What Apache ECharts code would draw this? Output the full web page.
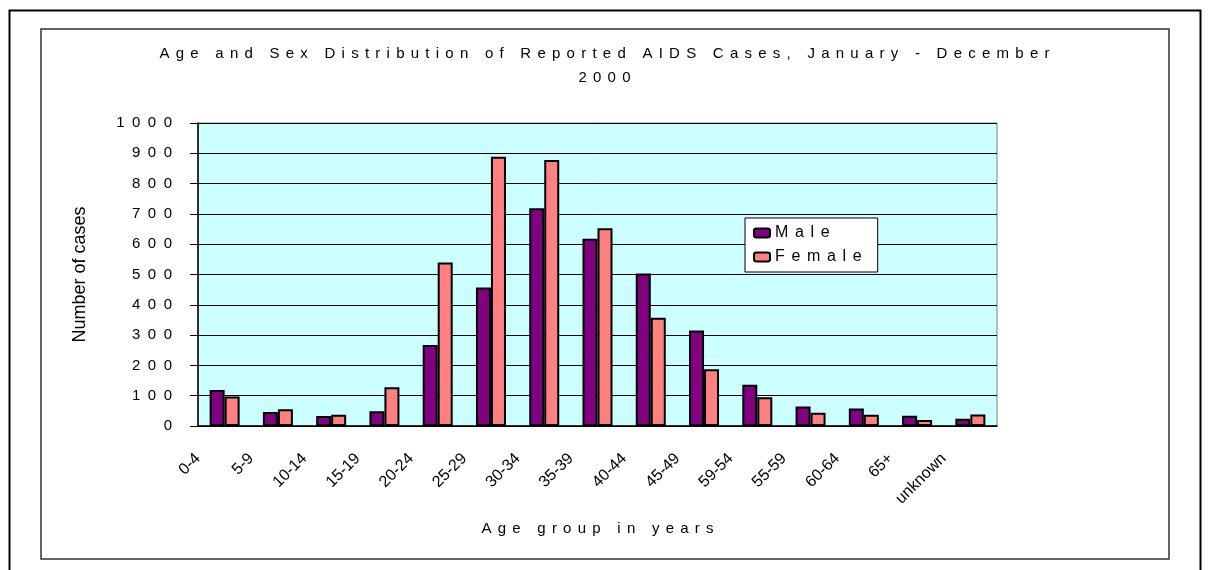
<!DOCTYPE html>
<html>
<head>
<meta charset="utf-8">
<title>Age and Sex Distribution of Reported AIDS Cases</title>
<script src="https://cdn.jsdelivr.net/npm/echarts@6/dist/echarts.min.js"></script>
<style>
html, body { margin: 0; padding: 0; background: #fff; }
#board { width: 1209px; height: 570px; }
</style>
</head>
<body>
<div id="board"></div>
<script>
// labels as printed under the axis ("59-54" is how the original reads)
var ageGroups = ["0-4", "5-9", "10-14", "15-19", "20-24", "25-29", "30-34", "35-39",
  "40-44", "45-49", "59-54", "55-59", "60-64", "65+", "unknown"];
var male = [119, 46, 33, 49, 267, 457, 719, 618, 503, 315, 136, 64, 58, 34, 24];
var female = [97, 55, 37, 128, 540, 889, 878, 653, 357, 187, 95, 44, 37, 20, 38];

var FONT = "Liberation Sans";
var GAP = "\u2005\u2006";   // ~0.42em between letters
var WIDE = "\u2002";        // en space, used for the tick numbers

// the original uses wide letter spacing on most texts
function spread(s, gap) {
  return String(s).split("").join(gap || GAP);
}

var myChart = echarts.init(document.getElementById("board"));

var options = {
  animation: false,
  backgroundColor: "#fff",
  title: {
    text: spread("Age and Sex Distribution of Reported AIDS Cases, January - December") + "\n" + spread("2000"),
    left: "center",
    top: 37,
    textStyle: { fontFamily: FONT, fontSize: 15, fontWeight: "normal", color: "#000", lineHeight: 24 }
  },
  legend: {
    data: ["Male", "Female"],
    orient: "vertical",
    left: 745,
    top: 218,
    padding: [7, 16, 7, 8],
    itemGap: 8,
    itemWidth: 16,
    itemHeight: 9,
    backgroundColor: "#fff",
    borderColor: "#000",
    borderWidth: 1,
    formatter: function (name) { return spread(name); },
    textStyle: { fontFamily: FONT, fontSize: 16, color: "#000" }
  },
  grid: {
    left: 198,
    right: 212,
    top: 123,
    bottom: 144,
    show: true,
    backgroundColor: "#CCFFFF",
    borderColor: "#808080",
    borderWidth: 1,
    containLabel: false,
    outerBoundsMode: "none"
  },
  xAxis: [
    {
      type: "category",
      data: ageGroups,
      boundaryGap: true,
      axisLine: { lineStyle: { color: "#000", width: 1.5 } },
      axisTick: { length: 6, lineStyle: { color: "#000" } },
      axisLabel: { show: false },
      name: spread("Age group in years"),
      nameLocation: "middle",
      nameGap: 95,
      nameTextStyle: { fontFamily: FONT, fontSize: 15, color: "#000" }
    },
    {
      // second axis only to put the labels on the tick marks, like the original
      type: "category",
      data: ageGroups.concat([""]),
      boundaryGap: false,
      position: "bottom",
      offset: 0,
      axisLine: { show: false },
      axisTick: { show: false },
      splitLine: { show: false },
      axisLabel: {
        interval: 0,
        rotate: 45,
        margin: 30,
        fontFamily: FONT,
        fontSize: 16,
        color: "#000"
      }
    }
  ],
  yAxis: {
    type: "value",
    min: 0,
    max: 1000,
    interval: 100,
    axisLine: { show: true, lineStyle: { color: "#000", width: 1.5 } },
    axisTick: { show: true, length: 8, lineStyle: { color: "#000" } },
    splitLine: { lineStyle: { color: "#000", width: 1 } },
    axisLabel: {
      margin: 26,
      fontFamily: FONT,
      fontSize: 15,
      color: "#000",
      formatter: function (v) { return spread(v, WIDE); }
    },
    name: "Number of cases",
    nameLocation: "middle",
    nameGap: 109,
    nameTextStyle: { fontFamily: FONT, fontSize: 18, color: "#000" }
  },
  series: [
    {
      name: "Male",
      type: "bar",
      xAxisIndex: 0,
      data: male,
      barWidth: 15,
      barGap: "0%",
      itemStyle: { color: "#800080", borderColor: "#000", borderWidth: 2 },
      emphasis: { disabled: true }
    },
    {
      name: "Female",
      type: "bar",
      xAxisIndex: 0,
      data: female,
      barWidth: 15,
      barGap: "0%",
      itemStyle: { color: "#FF8080", borderColor: "#000", borderWidth: 2 },
      emphasis: { disabled: true }
    }
  ],
  graphic: [
    {
      type: "rect",
      shape: { x: 9.5, y: 10.5, width: 1191, height: 580 },
      style: { fill: null, stroke: "#000", lineWidth: 2 },
      silent: true
    },
    {
      type: "rect",
      shape: { x: 41, y: 29, width: 1128, height: 530 },
      style: { fill: null, stroke: "#333", lineWidth: 1.5 },
      silent: true
    }
  ]
};

myChart.setOption(options);
</script>
</body>
</html>
